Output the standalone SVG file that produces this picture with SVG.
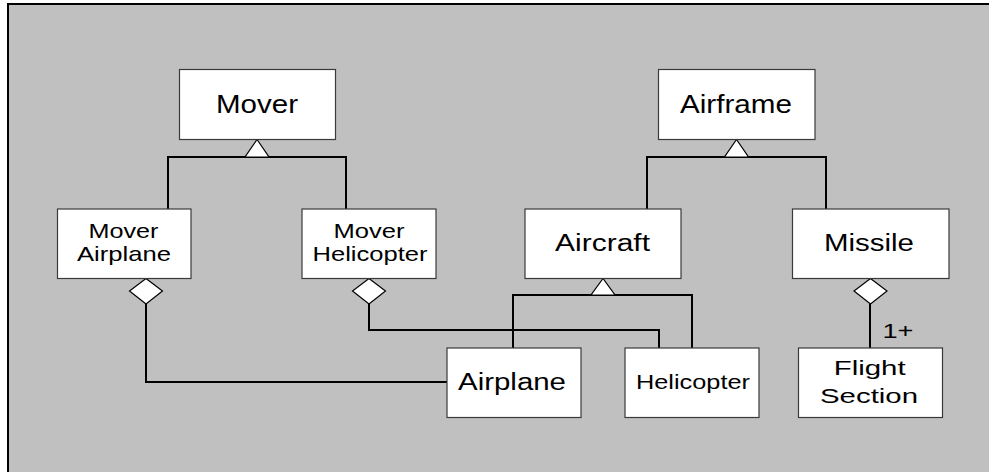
<svg xmlns="http://www.w3.org/2000/svg" width="989" height="472" viewBox="0 0 989 472">
<style>
.box{fill:#fff;stroke:#3a3a3a;stroke-width:1.2}
.ln{fill:none;stroke:#000;stroke-width:2}
.tri,.dia{fill:#fff;stroke:#000;stroke-width:1.2}
text{font-family:"Liberation Sans",Arial,sans-serif;fill:#000;text-anchor:middle}
.big{font-size:25px}
.med{font-size:23px}
.sm{font-size:21px}
.xs{font-size:20px}
</style>
<rect x="0" y="0" width="989" height="472" fill="#fff"/>
<rect x="8" y="4" width="995" height="480" fill="#c0c0c0" stroke="#000" stroke-width="2"/>
<g id="connectors">
<polyline class="ln" points="168,209 168,157 346,157 346,209"/>
<polyline class="ln" points="647,209 647,157 826,157 826,209"/>
<polyline class="ln" points="513,348 513,295 692,295 692,348"/>
<polyline class="ln" points="146,304 146,382 447,382"/>
<polyline class="ln" points="369,304 369,330 659,330 659,348"/>
<line class="ln" x1="870" y1="304" x2="870" y2="348"/>
<polygon class="tri" points="257,139.5 245,157 269,157"/>
<polygon class="tri" points="736.5,139.5 724.5,157 748.5,157"/>
<polygon class="tri" points="603,278.5 591,295 615,295"/>
<polygon class="dia" points="146,278.5 162.5,291 146,304 129.5,291"/>
<polygon class="dia" points="369,278.5 385.5,291 369,304 352.5,291"/>
<polygon class="dia" points="870.5,278.5 887,291 870.5,304 854,291"/>
<text class="xs" x="898" y="337.5" textLength="31" lengthAdjust="spacingAndGlyphs">1+</text>
</g>
<g id="mover"><rect class="box" x="179.5" y="69.5" width="156" height="70"/><text class="big" x="257" y="112.7" textLength="82" lengthAdjust="spacingAndGlyphs">Mover</text></g>
<g id="airframe"><rect class="box" x="658.5" y="69.5" width="156.5" height="70"/><text class="big" x="736" y="112.7" textLength="112" lengthAdjust="spacingAndGlyphs">Airframe</text></g>
<g id="mover-airplane"><rect class="box" x="57.5" y="209" width="133.5" height="69.5"/><text class="sm" x="123.5" y="238.3" textLength="70" lengthAdjust="spacingAndGlyphs">Mover</text><text class="sm" x="124" y="261" textLength="94" lengthAdjust="spacingAndGlyphs">Airplane</text></g>
<g id="mover-helicopter"><rect class="box" x="302" y="209" width="134" height="69.5"/><text class="sm" x="369" y="238.3" textLength="71" lengthAdjust="spacingAndGlyphs">Mover</text><text class="sm" x="370" y="261" textLength="115" lengthAdjust="spacingAndGlyphs">Helicopter</text></g>
<g id="aircraft"><rect class="box" x="525" y="209" width="156" height="69.5"/><text class="med" x="602.5" y="250.7" textLength="95" lengthAdjust="spacingAndGlyphs">Aircraft</text></g>
<g id="missile"><rect class="box" x="792.5" y="209" width="156.5" height="69.5"/><text class="med" x="869" y="250.7" textLength="90" lengthAdjust="spacingAndGlyphs">Missile</text></g>
<g id="airplane"><rect class="box" x="447" y="348" width="134" height="69.5"/><text class="med" x="512" y="390" textLength="108" lengthAdjust="spacingAndGlyphs">Airplane</text></g>
<g id="helicopter"><rect class="box" x="625" y="348" width="134" height="69.5"/><text class="xs" x="693" y="389.3" textLength="114" lengthAdjust="spacingAndGlyphs">Helicopter</text></g>
<g id="flight-section"><rect class="box" x="798.5" y="348" width="144" height="69.5"/><text class="sm" x="869.7" y="375" textLength="72" lengthAdjust="spacingAndGlyphs">Flight</text><text class="sm" x="869" y="403.3" textLength="98" lengthAdjust="spacingAndGlyphs">Section</text></g>
</svg>
